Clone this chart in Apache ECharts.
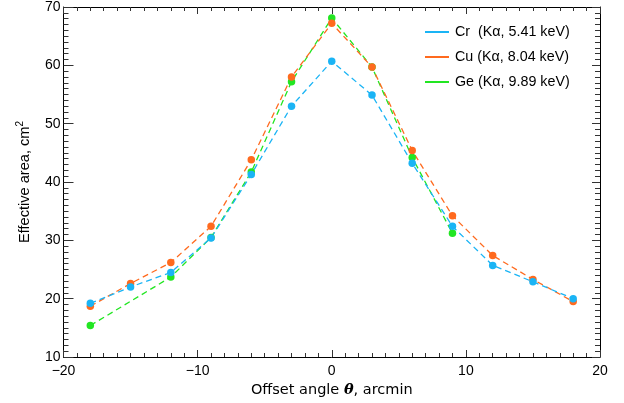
<!DOCTYPE html>
<html><head><meta charset="utf-8">
<script src="https://cdn.jsdelivr.net/npm/echarts@6/dist/echarts.min.js"></script>
<style>html,body{margin:0;padding:0;background:#fff}#c{width:624px;height:403px}</style>
</head><body><div id="c"></div>
<script>
var xCr = [-18,-15,-12,-9,-6,-3,0,3,6,9,12,15,18];
var cr  = [19.2,22.0,24.5,30.4,41.3,53.0,60.7,54.9,43.2,32.4,25.7,22.9,20.0];
var xCu = [-18,-15,-12,-9,-6,-3,0,3,6,9,12,15,18];
var cu  = [18.7,22.6,26.2,32.4,43.8,58.0,67.2,59.7,45.4,34.2,27.4,23.3,19.5];
var xGe = [-18,-12,-9,-6,-3,0,3,6,9];
var ge  = [15.4,23.7,30.5,41.7,57.2,68.1,59.7,44.2,31.2];
var seriesNames = ['Cr  (K\u03b1, 5.41 keV)','Cu (K\u03b1, 8.04 keV)','Ge (K\u03b1, 9.89 keV)'];
var colors = ['#1ab4f5','#ff6a1e','#22e622'];

function pairs(xs, ys){ return xs.map(function(x,i){return [x, ys[i]];}); }
function mk(name, xs, ys, color){
  return {name:name, type:'line', data:pairs(xs,ys), xAxisIndex:0, yAxisIndex:0,
    symbol:'circle', symbolSize:7.5, showSymbol:true,
    itemStyle:{color:color}, lineStyle:{color:color, width:1.3, type:[6,4]}, z:2};
}
var fontT = 'Liberation Sans';
var ch = echarts.init(document.getElementById('c'), null, {renderer:'canvas'});
var axBase = {type:'value', min:-20, max:20, interval:10,
  axisLine:{show:true, onZero:false, lineStyle:{color:'#000', width:1}},
  splitLine:{show:false},
  minorTick:{show:true, splitNumber:10, length:4, lineStyle:{color:'#333'}},
};
var ayBase = {type:'value', min:10, max:70, interval:10,
  axisLine:{show:true, onZero:false, lineStyle:{color:'#000', width:1}},
  splitLine:{show:false},
  minorTick:{show:true, splitNumber:10, length:5, lineStyle:{color:'#333'}},
};
ch.setOption({
  animation:false,
  backgroundColor:'#fff',
  grid:{left:63.5, right:24, top:6, bottom:46, containLabel:false},
  legend:{show:true, orient:'vertical', left:425, top:24, padding:0, itemWidth:24, itemHeight:2, itemGap:9,
    icon:'rect', data:seriesNames,
    textStyle:{fontFamily:fontT, fontSize:14.3, color:'#000', lineHeight:16, padding:[0,0,0,1]}},
  xAxis:[
    Object.assign({}, axBase, {position:'bottom',
      axisTick:{show:true, inside:true, length:7, lineStyle:{color:'#333'}},
      axisLabel:{show:true, margin:7, fontFamily:fontT, fontSize:14, color:'#000',
        formatter:function(v){return v<0?'\u2212'+Math.abs(v):String(v);}},
      name:'Offset angle {th|\u03b8}, arcmin', nameLocation:'middle', nameGap:18,
      nameTextStyle:{fontFamily:'DejaVu Sans', fontSize:14.5, color:'#000',
        rich:{th:{fontFamily:'DejaVu Serif', fontWeight:'bold', fontStyle:'italic', fontSize:14.5, color:'#000'}}}
    }),
    Object.assign({}, axBase, {position:'top',
      axisTick:{show:true, inside:true, length:7, lineStyle:{color:'#333'}},
      axisLabel:{show:false}})
  ],
  yAxis:[
    Object.assign({}, ayBase, {position:'left',
      axisTick:{show:true, inside:true, length:10, lineStyle:{color:'#333'}},
      axisLabel:{show:true, margin:3, fontFamily:fontT, fontSize:14, color:'#000'},
      name:'Effective area, cm{sup|2}', nameLocation:'middle', nameGap:30,
      nameTextStyle:{fontFamily:fontT, fontSize:14.6, color:'#000',
        rich:{sup:{fontFamily:fontT, fontSize:10, verticalAlign:'top', padding:[0,0,8,0], color:'#000'}}}
    }),
    Object.assign({}, ayBase, {position:'right',
      axisTick:{show:true, inside:true, length:8, lineStyle:{color:'#333'}},
      minorTick:{show:true, splitNumber:10, length:5, lineStyle:{color:'#333'}},
      axisLabel:{show:false}})
  ],
  series:[
    mk(seriesNames[2], xGe, ge, colors[2]),
    mk(seriesNames[1], xCu, cu, colors[1]),
    mk(seriesNames[0], xCr, cr, colors[0])
  ]
});
</script></body></html>
